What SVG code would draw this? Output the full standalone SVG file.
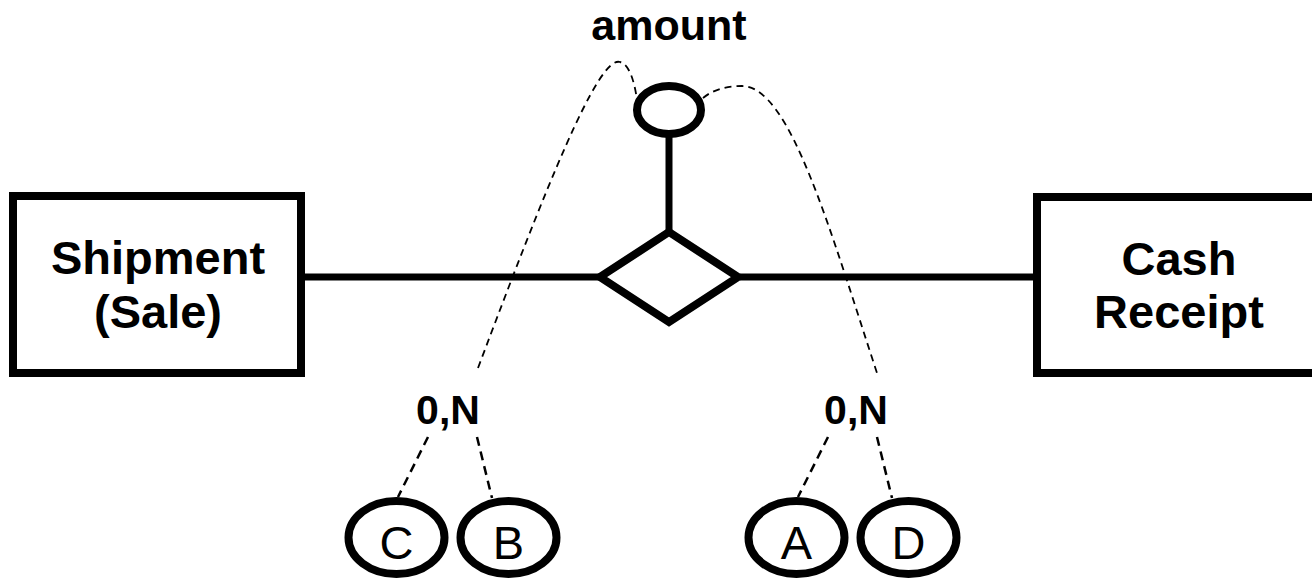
<svg xmlns="http://www.w3.org/2000/svg" width="1312" height="581" viewBox="0 0 1312 581">
<style>
.shape{fill:#fff;stroke:#000;stroke-width:8}
.line{stroke:#000;stroke-width:7;fill:none}
.dash{stroke:#000;stroke-width:1.8;fill:none;stroke-dasharray:7 5}
.dash2{stroke:#000;stroke-width:2.5;fill:none;stroke-dasharray:9 6}
.big{font-family:"Liberation Sans",Arial,sans-serif;font-weight:bold;font-size:47px;text-anchor:middle;fill:#000}
.lbl{font-family:"Liberation Sans",Arial,sans-serif;font-weight:bold;font-size:41px;text-anchor:middle;fill:#000}
.amt{font-family:"Liberation Sans",Arial,sans-serif;font-weight:bold;font-size:43px;text-anchor:middle;fill:#000}
.let{font-family:"Liberation Sans",Arial,sans-serif;font-size:47px;text-anchor:middle;fill:#000}
</style>
<rect width="1312" height="581" fill="#fff"/>
<g id="connectors">
<line class="line" x1="301" y1="277" x2="599" y2="277"/>
<line class="line" x1="740" y1="277" x2="1037" y2="277"/>
<line class="line" x1="669" y1="134" x2="669" y2="232"/>
<path class="dash" d="M478 368 C545 190 598 55 620 62 C630 64 635 85 637 100"/>
<path class="dash" d="M703 98 C715 88 730 86 742 86 C790 86 830 230 877 373"/>
<line class="dash2" x1="428" y1="437" x2="398" y2="497"/>
<line class="dash2" x1="477" y1="437" x2="492" y2="498"/>
<line class="dash2" x1="828" y1="437" x2="798" y2="497"/>
<line class="dash2" x1="877" y1="437" x2="892" y2="498"/>
</g>
<g id="shipment">
<rect class="shape" x="13" y="196" width="288" height="177"/>
<text class="big" x="158" y="274">Shipment</text>
<text class="big" x="158" y="328">(Sale)</text>
</g>
<g id="cash">
<rect class="shape" x="1037" y="197" width="284" height="176"/>
<text class="big" x="1179" y="275">Cash</text>
<text class="big" x="1179" y="328">Receipt</text>
</g>
<g id="relationship">
<polygon class="shape" points="669,232 738,277 669,322 600,277"/>
</g>
<g id="amount">
<ellipse class="shape" cx="669" cy="110" rx="32" ry="24"/>
<text class="amt" x="669" y="40">amount</text>
</g>
<g id="card-left"><text class="lbl" x="448" y="424">0,N</text></g>
<g id="card-right"><text class="lbl" x="856" y="424">0,N</text></g>
<g id="C"><ellipse class="shape" cx="396.5" cy="537.5" rx="48" ry="36.5"/><text class="let" x="396.5" y="559">C</text></g>
<g id="B"><ellipse class="shape" cx="508.5" cy="537.5" rx="48" ry="36.5"/><text class="let" x="508.5" y="559">B</text></g>
<g id="A"><ellipse class="shape" cx="796.5" cy="537.5" rx="48" ry="36.5"/><text class="let" x="796.5" y="559">A</text></g>
<g id="D"><ellipse class="shape" cx="908.5" cy="537.5" rx="48" ry="36.5"/><text class="let" x="908.5" y="559">D</text></g>
</svg>
